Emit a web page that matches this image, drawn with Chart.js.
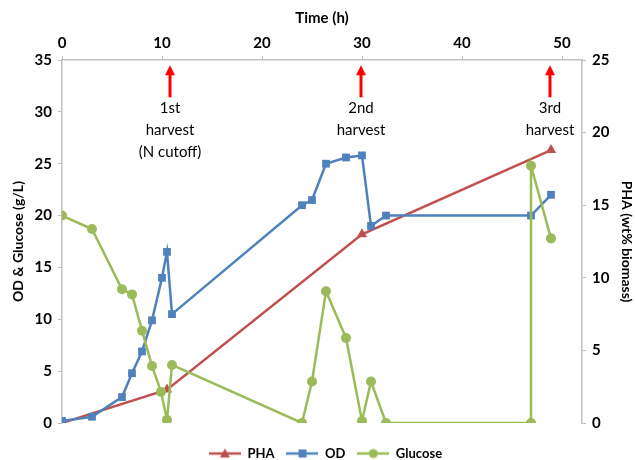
<!DOCTYPE html>
<html>
<head>
<meta charset="utf-8">
<script src="https://cdn.jsdelivr.net/npm/chart.js@4/dist/chart.umd.min.js"></script>
<style>
  body { margin: 0; background: #fff; }
  #wrap { width: 635px; height: 460px; }
</style>
</head>
<body>
<div id="wrap"><canvas id="harvestChart"></canvas></div>
<script>
// values
const phaTime = [0, 10.5, 30, 48.9];
const phaVal = [0, 2.3, 13.0, 18.8];

const odTime = [0, 3, 6, 7, 8, 9, 10, 10.5, 11, 24, 25, 26.4, 28.4, 30, 30.9, 32.4, 46.9, 48.9];
const odVal = [0.2, 0.6, 2.5, 4.8, 6.9, 9.9, 14, 16.5, 10.5, 21.0, 21.5, 25.0, 25.6, 25.8, 19.0, 20.0, 20.0, 22.0];

const glucoseTime = [0, 3, 6, 7, 8, 9, 9.9, 10.5, 11, 24, 25, 26.4, 28.4, 30, 30.9, 32.4, 46.9, 46.9, 48.9];
const glucoseVal = [20, 18.7, 12.9, 12.4, 8.9, 5.5, 3.0, 0.3, 5.6, 0, 4.0, 12.7, 8.2, 0.2, 4.0, 0, 0, 24.8, 17.8];

const harvestTimes = [10.8, 29.9, 48.8];
const harvestLabels = [["1st", "harvest", "(N cutoff)"], ["2nd", "harvest"], ["3rd", "harvest"]];

const red = "#C0504D";
const blue = "#4F81BD";
const green = "#9BBB59";
const axisGrey = "#BFBFBF";
const fontFamily = "Lato, 'Open Sans', sans-serif";

function toPoints(xs, ys) {
  return xs.map((x, i) => ({ x: x, y: ys[i] }));
}

// little line + marker images for the legend
function legendSample(color, shape) {
  const c = document.createElement("canvas");
  c.width = 32;
  c.height = 12;
  const g = c.getContext("2d");
  g.strokeStyle = color;
  g.fillStyle = color;
  g.lineWidth = 2.5;
  g.beginPath();
  g.moveTo(0, 6);
  g.lineTo(32, 6);
  g.stroke();
  g.beginPath();
  if (shape === "triangle") {
    g.moveTo(16, 1);
    g.lineTo(21, 10);
    g.lineTo(11, 10);
    g.closePath();
  } else if (shape === "rect") {
    g.rect(12, 2, 8, 8);
  } else {
    g.arc(16, 6, 4.5, 0, Math.PI * 2);
  }
  g.fill();
  return c;
}

const harvestPlugin = {
  id: "harvestNotes",
  afterLayout(chart) {
    // nudge the legend down and right, like the original
    const lg = chart.legend;
    if (lg) {
      lg.top += 12;
      lg.bottom += 12;
      lg.left += 8;
      lg.right += 8;
    }
  },
  afterDatasetsDraw(chart) {
    const ctx = chart.ctx;
    const xs = chart.scales.x;
    const ys = chart.scales.y;
    ctx.save();
    harvestTimes.forEach((t, i) => {
      const px = xs.getPixelForValue(t);
      const top = ys.getPixelForValue(34.5);
      const bottom = ys.getPixelForValue(31.4);
      ctx.strokeStyle = "#FF0000";
      ctx.fillStyle = "#FF0000";
      ctx.lineWidth = 3;
      ctx.beginPath();
      ctx.moveTo(px, bottom);
      ctx.lineTo(px, top + 8);
      ctx.stroke();
      ctx.beginPath();
      ctx.moveTo(px, top);
      ctx.lineTo(px + 5, top + 10);
      ctx.lineTo(px - 5, top + 10);
      ctx.closePath();
      ctx.fill();

      ctx.fillStyle = "#000";
      ctx.font = "15px " + fontFamily;
      ctx.textAlign = "center";
      ctx.textBaseline = "middle";
      harvestLabels[i].forEach((line, j) => {
        ctx.fillText(line, px, bottom + 11 + j * 22);
      });
    });
    ctx.restore();
  },
};

const ctx = document.getElementById("harvestChart");

new Chart(ctx, {
  type: "line",
  data: {
    datasets: [
      {
        label: "PHA",
        data: toPoints(phaTime, phaVal),
        yAxisID: "y1",
        borderColor: red,
        backgroundColor: red,
        borderWidth: 2.5,
        pointStyle: "triangle",
        pointRadius: 6,
        pointBorderWidth: 0,
        order: 2,
      },
      {
        label: "OD",
        data: toPoints(odTime, odVal),
        yAxisID: "y",
        borderColor: blue,
        backgroundColor: blue,
        borderWidth: 2.5,
        pointStyle: "rect",
        pointRadius: 5.5,
        pointBorderWidth: 0,
        order: 1,
      },
      {
        label: "Glucose",
        data: toPoints(glucoseTime, glucoseVal),
        yAxisID: "y",
        borderColor: green,
        backgroundColor: green,
        borderWidth: 2.5,
        pointStyle: "circle",
        pointRadius: 5,
        pointBorderWidth: 0,
        order: 0,
      },
    ],
  },
  options: {
    responsive: true,
    maintainAspectRatio: false,
    animation: false,
    layout: { padding: { top: 0, bottom: 2, left: 0, right: 0 } },
    plugins: {
      tooltip: { enabled: false },
      legend: {
        position: "bottom",
        labels: {
          usePointStyle: true,
          pointStyleWidth: 32,
          padding: 12,
          color: "#000",
          font: { family: fontFamily, size: 13, weight: "bold" },
          generateLabels: (chart) => {
            const shapes = ["triangle", "rect", "circle"];
            return chart.data.datasets.map((ds, i) => ({
              text: ds.label,
              datasetIndex: i,
              pointStyle: legendSample(ds.borderColor, shapes[i]),
              fillStyle: ds.borderColor,
              strokeStyle: ds.borderColor,
              lineWidth: 0,
              fontColor: "#000",
              hidden: false,
            }));
          },
        },
      },
    },
    scales: {
      x: {
        type: "linear",
        position: "top",
        min: 0,
        max: 52,
        afterBuildTicks: (scale) => {
          scale.ticks = [0, 10, 20, 30, 40, 50].map((v) => ({ value: v }));
        },
        afterFit: (scale) => {
          scale.height = 60;
        },
        ticks: {
          color: "#000",
          padding: 4,
          font: { family: fontFamily, size: 15, weight: "bold" },
        },
        grid: {
          drawOnChartArea: false,
          drawTicks: true,
          tickLength: 4,
          color: axisGrey,
        },
        border: { display: true, color: axisGrey, width: 1.5 },
        title: {
          display: true,
          text: "Time (h)",
          color: "#000",
          padding: { top: 9, bottom: 2 },
          font: { family: fontFamily, size: 15, weight: "bold" },
        },
      },
      y: {
        position: "left",
        min: 0,
        max: 35,
        ticks: {
          stepSize: 5,
          color: "#000",
          padding: 6,
          font: { family: fontFamily, size: 15, weight: "bold" },
        },
        afterFit: (scale) => {
          scale.width = 62;
        },
        grid: {
          drawOnChartArea: false,
          drawTicks: true,
          tickLength: 4,
          color: axisGrey,
        },
        border: { display: true, color: axisGrey, width: 1.5 },
        title: {
          display: true,
          text: "OD & Glucose (g/L)",
          color: "#000",
          padding: { top: 10, bottom: 0 },
          font: { family: fontFamily, size: 14, weight: "bold" },
        },
      },
      y1: {
        position: "right",
        min: 0,
        max: 25,
        ticks: {
          stepSize: 5,
          color: "#000",
          padding: 6,
          font: { family: fontFamily, size: 15, weight: "bold" },
        },
        afterFit: (scale) => {
          scale.width = 53;
        },
        grid: {
          drawOnChartArea: false,
          drawTicks: true,
          tickLength: 4,
          color: axisGrey,
        },
        border: { display: true, color: axisGrey, width: 1.5 },
        title: {
          display: true,
          text: "PHA (wt% biomass)",
          color: "#000",
          padding: { top: 0, bottom: 4 },
          font: { family: fontFamily, size: 14, weight: "bold" },
        },
      },
    },
  },
  plugins: [harvestPlugin],
});
</script>
</body>
</html>
